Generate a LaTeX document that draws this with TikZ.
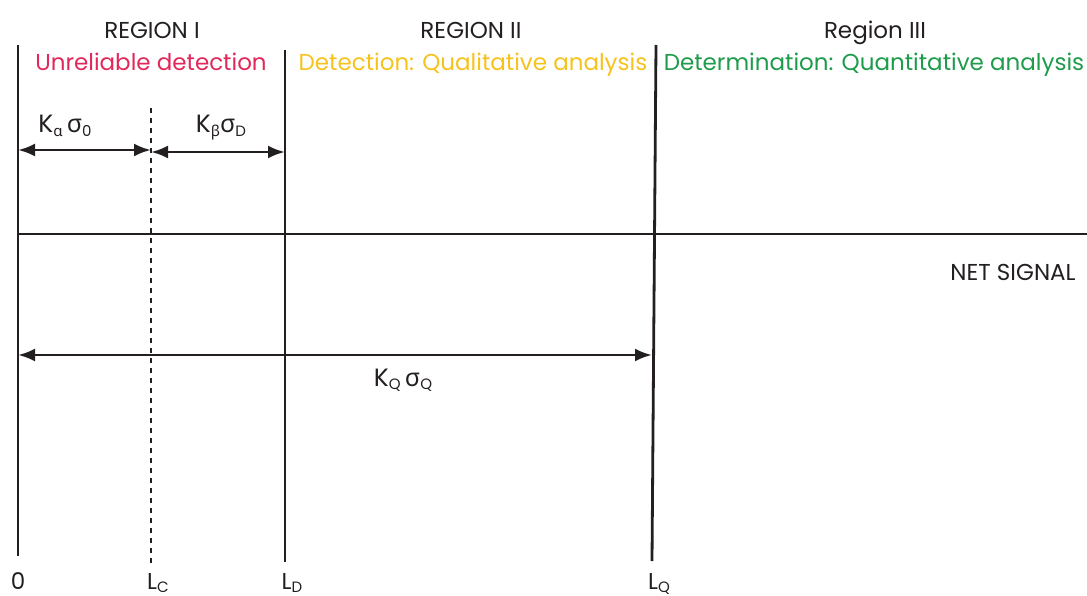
\documentclass[tikz,border=0pt]{standalone}
\usepackage{fontspec}
\setmainfont{Poppins}
\newfontfamily\grk{Noto Sans}
\usetikzlibrary{arrows.meta}
\definecolor{ink}{HTML}{231F20}
\definecolor{unrel}{HTML}{E2285A}
\definecolor{qual}{HTML}{F6C21C}
\definecolor{quant}{HTML}{1E9B4B}
\newcommand{\lo}[1]{\raisebox{-0.25ex}{\fontsize{15}{15}\selectfont #1}}

\begin{document}
\begin{tikzpicture}[x=1pt, y=-1pt, line width=2.8pt, draw=ink,
    every node/.style={text=ink, inner sep=0pt, anchor=base, font=\fontsize{23}{27}\selectfont},
    klabel/.style={font=\fontsize{25}{29}\selectfont},
    dim/.style={{Latex[length=17pt,width=13pt]}-{Latex[length=17pt,width=13pt]}}]
    \useasboundingbox (0,0) rectangle (1087,596);

    \coordinate (zt) at (18,45);   \coordinate (zb) at (18,556);
    \coordinate (ct) at (151,108); \coordinate (cb) at (151,566);
    \coordinate (dt) at (285,50);  \coordinate (db) at (285,562);
    \coordinate (qt) at (656,45);  \coordinate (qb) at (652,561);
    \coordinate (sl) at (18,234);  \coordinate (sr) at (1087,234);

    \draw (zt) -- (zb);
    \draw[dash pattern=on 5pt off 5pt] (ct) -- (cb);
    \draw (dt) -- (db);
    \draw (qt) -- (qb);
    \draw (sl) -- (sr);

    \node(r1) at (152,39) {REGION I};
    \node(r2) at (471,39) {REGION II};
    \node(r3) at (875,39) {Region III};
    \node(u1) at (151,71) {\color{unrel}Unreliable detection};
    \node(u2) at (473,71) {\color{qual}Detection: Qualitative analysis};
    \node(u3) at (874,71) {\color{quant}Determination: Quantitative analysis};
    \node(ns) at (1013,280) {NET SIGNAL};

    \draw[dim] (18,150) coordinate(a1) -- (151,150) coordinate(a2);
    \draw[dim] (151,152) coordinate(b1) -- (285,152) coordinate(b2);
    \draw[dim] (18,355) coordinate(c1) -- (652,355) coordinate(c2);
    \node[klabel](ka) at (65,133) {K\lo{\grk α}\,{\grk σ}\lo{0}};
    \node[klabel](kb) at (221,133) {K\lo{\grk β}{\grk σ}\lo{D}};
    \node[klabel](kq) at (403,386) {K\lo{Q}\,{\grk σ}\lo{Q}};

    \node(l0) at (18,589) {0};
    \node(lc) at (158,589) {L\lo{C}};
    \node(ld) at (292,589) {L\lo{D}};
    \node(lq) at (659,589) {L\lo{Q}};
\end{tikzpicture}
\end{document}
